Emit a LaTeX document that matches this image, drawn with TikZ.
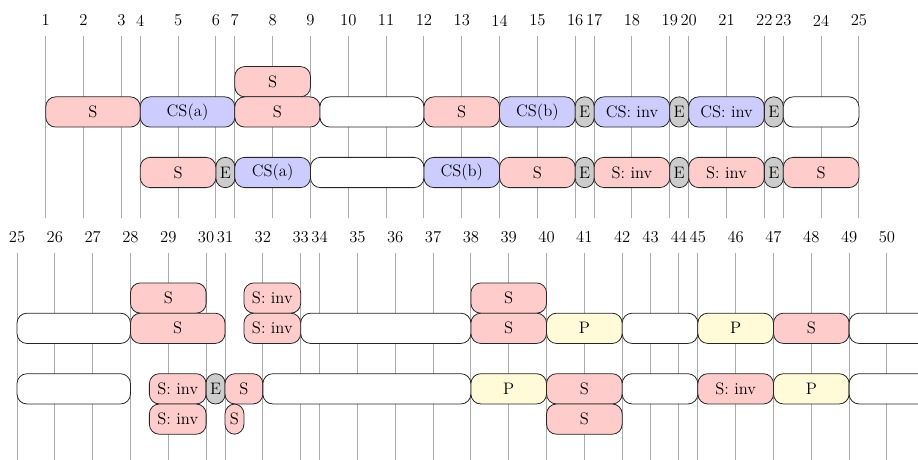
\documentclass[tikz,border=0pt]{standalone}
\usepackage{fontspec}
\usepackage{tikz}
\usetikzlibrary{positioning}

\definecolor{pyellow}{RGB}{255,250,215}
\tikzset{
  job/.style={draw=black!85, line width=0.6pt, rounded corners=7.5pt, minimum height=0.8cm, inner sep=0pt, outer sep=0pt},
  sjob/.style={job, fill=red!20},
  csjob/.style={job, fill=blue!20},
  pjob/.style={job, fill=pyellow},
  ejob/.style={job, fill=black!20, rounded corners=7pt},
  idle/.style={job, fill=white},
  tickline/.style={black!33, line width=0.75pt},
}
% style, name, from, to, y, text
\newcommand{\job}[6]{\node[#1, minimum width={(#4-#3)*0.5cm}] (#2) at ({(#3+#4)/2},#5) {#6};}

\begin{document}
\begin{tikzpicture}[x=0.5cm, y=1cm, font=\fontsize{12.5}{15}\selectfont]
\useasboundingbox (0,0) rectangle (48.54,-12.14);
\clip (0,0) rectangle (48.54,-12.14);

%first half
\begin{scope}[xshift=1.208cm]
%grid
\foreach \n/\h in {1/0,2/2,3/4,4/5,5/7,6/9,7/10,8/12,9/14,10/16,11/18,12/20,13/22,14/24,15/26,16/28,17/29,18/31,19/33,20/34,21/36,22/38,23/39,24/41,25/43}{
  \draw[tickline] (\h,-0.96) -- (\h,-5.76);
  \node (l\n) at (\h,-0.54) {\n};
}
%upper row
\job{sjob}{a0}{10}{14}{-2.16}{S}
\job{sjob}{a1}{0}{5}{-2.96}{S}
\job{csjob}{a2}{5}{10}{-2.96}{CS(a)}
\job{sjob}{a3}{10}{14.5}{-2.96}{S}
\job{idle}{a4}{14.5}{20}{-2.96}{}
\job{sjob}{a5}{20}{24}{-2.96}{S}
\job{csjob}{a6}{24}{28}{-2.96}{CS(b)}
\job{ejob}{a7}{28}{29}{-2.96}{E}
\job{csjob}{a8}{29}{33}{-2.96}{CS: inv}
\job{ejob}{a9}{33}{34}{-2.96}{E}
\job{csjob}{a10}{34}{38}{-2.96}{CS: inv}
\job{ejob}{a11}{38}{39}{-2.96}{E}
\job{idle}{a12}{39}{43}{-2.96}{}
%lower row
\job{sjob}{b1}{5}{9}{-4.56}{S}
\job{ejob}{b2}{9}{10}{-4.56}{E}
\job{csjob}{b3}{10}{14}{-4.56}{CS(a)}
\job{idle}{b4}{14}{20}{-4.56}{}
\job{csjob}{b5}{20}{24}{-4.56}{CS(b)}
\job{sjob}{b6}{24}{28}{-4.56}{S}
\job{ejob}{b7}{28}{29}{-4.56}{E}
\job{sjob}{b8}{29}{33}{-4.56}{S: inv}
\job{ejob}{b9}{33}{34}{-4.56}{E}
\job{sjob}{b10}{34}{38}{-4.56}{S: inv}
\job{ejob}{b11}{38}{39}{-4.56}{E}
\job{sjob}{b12}{39}{43}{-4.56}{S}
\end{scope}

%second half
\begin{scope}[xshift=0.4495cm, yshift=-5.72cm]
%grid
\foreach \n/\h in {25/0,26/2,27/4,28/6,29/8,30/10,31/11,32/13,33/15,34/16,35/18,36/20,37/22,38/24,39/26,40/28,41/30,42/32,43/33.5,44/35,45/36,46/38,47/40,48/42,49/44,50/46}{
  \draw[tickline] (\h,-0.96) -- (\h,-6.6);
  \node (m\n) at (\h,-0.54) {\n};
}
%upper row
\job{sjob}{c01}{6}{10}{-2.16}{S}
\job{sjob}{c02}{12}{15}{-2.16}{S: inv}
\job{sjob}{c03}{24}{28}{-2.16}{S}
\job{idle}{c1}{0}{6}{-2.96}{}
\job{sjob}{c2}{6}{11}{-2.96}{S}
\job{sjob}{c3}{12}{15}{-2.96}{S: inv}
\job{idle}{c4}{15}{24}{-2.96}{}
\job{sjob}{c5}{24}{28}{-2.96}{S}
\job{pjob}{c6}{28}{32}{-2.96}{P}
\job{idle}{c7}{32}{36}{-2.96}{}
\job{pjob}{c8}{36}{40}{-2.96}{P}
\job{sjob}{c9}{40}{44}{-2.96}{S}
\job{idle}{c10}{44}{52}{-2.96}{}
%lower row
\job{idle}{d1}{0}{6}{-4.56}{}
\job{sjob}{d2}{7}{10}{-4.56}{S: inv}
\job{ejob}{d3}{10}{11}{-4.56}{E}
\job{sjob}{d4}{11}{13}{-4.56}{S}
\job{idle}{d5}{13}{24}{-4.56}{}
\job{pjob}{d6}{24}{28}{-4.56}{P}
\job{sjob}{d7}{28}{32}{-4.56}{S}
\job{idle}{d8}{32}{36}{-4.56}{}
\job{sjob}{d9}{36}{40}{-4.56}{S: inv}
\job{pjob}{d10}{40}{44}{-4.56}{P}
\job{idle}{d11}{44}{52}{-4.56}{}
\job{sjob}{d21}{7}{10}{-5.36}{S: inv}
\job{sjob}{d22}{11}{12}{-5.36}{S}
\job{sjob}{d23}{28}{32}{-5.36}{S}
\end{scope}
\end{tikzpicture}
\end{document}
